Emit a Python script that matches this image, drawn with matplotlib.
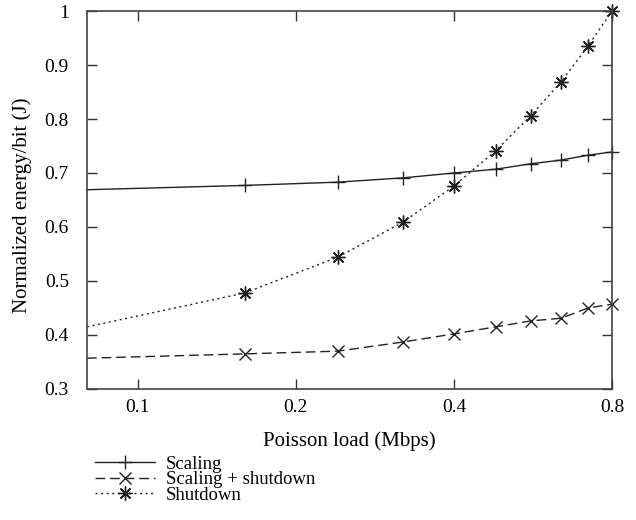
import matplotlib
matplotlib.use("Agg")
import matplotlib.pyplot as plt
from matplotlib.ticker import FixedLocator, FixedFormatter, NullLocator

plt.rcParams["font.family"] = ["Liberation Serif", "DejaVu Serif"]

# data
load = [0.08, 0.16, 0.24, 0.32, 0.40, 0.48, 0.56, 0.64, 0.72, 0.80]
scaling = [0.669, 0.677, 0.683, 0.691, 0.700, 0.707, 0.717, 0.724, 0.733, 0.739]
scaling_shutdown = [0.357, 0.365, 0.370, 0.387, 0.402, 0.415, 0.426, 0.431, 0.450, 0.457]
shutdown = [0.415, 0.478, 0.544, 0.609, 0.676, 0.741, 0.806, 0.869, 0.935, 1.0]

x_ticks = [0.1, 0.2, 0.4, 0.8]
x_tick_labels = ["0.1", "0.2", "0.4", "0.8"]
y_ticks = [0.3, 0.4, 0.5, 0.6, 0.7, 0.8, 0.9, 1.0]
y_tick_labels = ["0.3", "0.4", "0.5", "0.6", "0.7", "0.8", "0.9", "1"]

fig = plt.figure(figsize=(6.36, 5.2), dpi=100)
ax = fig.add_axes([0.1368, 0.252, 0.8255, 0.7268])

ink = "#222222"
# first point sits on the left border, gnuplot leaves its marker out
marks = slice(1, None)
ax.plot(load, scaling, color=ink, lw=1.0, ls="-", marker="+",
        ms=10, mew=1.0, markevery=marks, clip_on=False, label="Scaling")
ax.plot(load, scaling_shutdown, color=ink, lw=1.0, ls=(0, (7, 3.5)),
        marker="x", ms=8, mew=1.0, markevery=marks, clip_on=False,
        label="Scaling + shutdown")
ax.plot(load, shutdown, color=ink, lw=1.0, ls=(0, (1.5, 2.5)),
        marker=(8, 2, 0), ms=10, mew=1.0, markevery=marks, clip_on=False,
        label="Shutdown")

ax.set_xscale("log")
ax.set_xlim(0.08, 0.8)
ax.set_ylim(0.3, 1.0)
ax.xaxis.set_major_locator(FixedLocator(x_ticks))
ax.xaxis.set_major_formatter(FixedFormatter(x_tick_labels))
ax.xaxis.set_minor_locator(NullLocator())
ax.set_yticks(y_ticks)
ax.set_yticklabels(y_tick_labels)

ax.tick_params(direction="in", length=7, width=1, top=True, right=True,
               labelsize=14, colors="#333333", labelcolor="black")
ax.tick_params(axis="x", pad=7)
ax.tick_params(axis="y", pad=13)
for sp in ax.spines.values():
    sp.set_color("#444444")
    sp.set_linewidth(1.2)

ax.set_xlabel("Poisson load (Mbps)", fontsize=15, labelpad=11)
ax.set_ylabel("Normalized energy/bit (J)", fontsize=15)
ax.yaxis.set_label_coords(-0.105, 0.487)

fig.legend(loc="upper left", bbox_to_anchor=(0.149, 0.124), frameon=False,
           fontsize=13.5, handlelength=3.2, handletextpad=0.6,
           labelspacing=-0.09, borderaxespad=0, borderpad=0, numpoints=1)

fig.savefig("out.png", dpi=100)
